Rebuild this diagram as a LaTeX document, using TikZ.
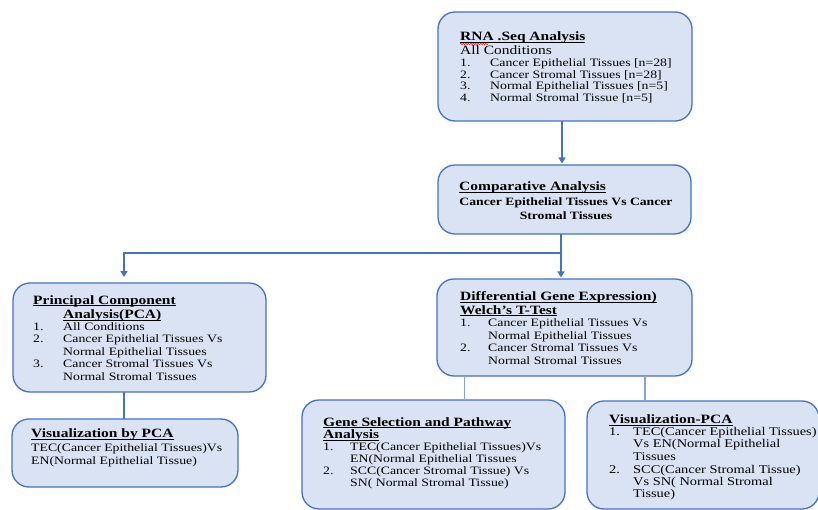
\documentclass[tikz,border=0pt]{standalone}
\usepackage{fontspec}
\setmainfont{Liberation Serif}[FakeStretch=1.22]
\usetikzlibrary{arrows.meta,decorations.pathmorphing}
\definecolor{boxfill}{RGB}{218,227,243}
\definecolor{boxline}{RGB}{68,114,196}
\newcommand{\hdul}[1]{\setbox0\hbox{#1}\rlap{\rule[-2pt]{\wd0}{0.8pt}}\box0}
\newcommand{\itm}[3]{\makebox[#1][l]{#2}#3}
\newcommand{\tx}[5]{\node[#4] (#1) at (#2,#3) {#5};}
\begin{document}
\begin{tikzpicture}[x=1pt,y=-1pt,
  box/.style={draw=boxline, line width=1.3pt, fill=boxfill, rounded corners=17pt, inner sep=0pt, outer sep=0pt},
  body/.style={anchor=base west, inner sep=0pt, font=\fontsize{11.3}{12}\selectfont},
  bodyb/.style={anchor=base, inner sep=0pt, font=\fontsize{11.2}{12}\selectfont\bfseries},
  bodyl/.style={anchor=base west, inner sep=0pt, font=\fontsize{11.8}{12}\selectfont},
  big/.style={anchor=base west, inner sep=0pt, font=\fontsize{12.7}{13}\selectfont},
  head/.style={anchor=base west, inner sep=0pt, font=\fontsize{12.7}{13}\selectfont\bfseries},
  arr/.style={draw=boxline, line width=1.3pt, -{Triangle[length=6pt,width=7pt]}, shorten >=1.5pt},
  conn/.style={draw=boxline, line width=1.3pt},
  lconn/.style={draw=boxline!65!white, line width=1.8pt}
]
\useasboundingbox (0,0) rectangle (818,510);
\fill[white] (0,0) rectangle (818,510);
\clip (0,0) rectangle (818,510);

% boxes
\node[box, minimum width=254pt, minimum height=109pt] (rna) at (565,66.5) {};
\node[box, minimum width=253pt, minimum height=69pt] (comp) at (564.5,199.5) {};
\node[box, minimum width=253pt, minimum height=109pt] (pca) at (139.5,337.5) {};
\node[box, minimum width=255pt, minimum height=97pt] (dge) at (564.5,327.5) {};
\node[box, minimum width=226pt, minimum height=68pt] (vis) at (125,453) {};
\node[box, minimum width=263pt, minimum height=109pt] (gene) at (433.5,454.5) {};
\node[box, minimum width=232pt, minimum height=108pt] (vpca) at (703,455) {};

% connectors
\coordinate (br) at (561,253);
\draw[arr] ([xshift=-3pt]rna.south) -- ([xshift=-3pt]rna.south |- comp.north);
\draw[arr] ([xshift=-3.5pt]comp.south) -- ([xshift=-3.5pt]comp.south |- dge.north);
\draw[arr, shorten >=6pt] (br) -| ([xshift=-15.5pt]pca.north);
\draw[conn] ([xshift=-15.5pt]pca.south) -- ([xshift=-15.5pt]pca.south |- vis.north);
\draw[lconn] ([xshift=-100pt]dge.south) -- ([xshift=-100pt]dge.south |- gene.north);
\draw[lconn] ([xshift=80.5pt]dge.south) -- ([xshift=80.5pt]dge.south |- vpca.north);

% RNA box
\tx{r1}{460}{40.7}{head}{\hdul{RNA .Seq Analysis}}
\draw[red, line width=0.5pt, decorate, decoration={snake, amplitude=0.7pt, segment length=2.5pt}] (460,44) -- (488,44);
\tx{r2}{460}{54.5}{big}{All Conditions}
\tx{r3}{460}{66.7}{body}{\itm{30pt}{1.}{Cancer Epithelial Tissues [n=28]}}
\tx{r4}{460}{78.3}{body}{\itm{30pt}{2.}{Cancer Stromal Tissues [n=28]}}
\tx{r5}{460}{90}{body}{\itm{30pt}{3.}{Normal Epithelial Tissues [n=5]}}
\tx{r6}{460}{101.7}{body}{\itm{30pt}{4.}{Normal Stromal Tissue [n=5]}}

% Comparative
\tx{c1}{459}{190.7}{head}{\hdul{Comparative Analysis}}
\tx{c2}{566}{206}{bodyb}{Cancer Epithelial Tissues Vs Cancer}
\tx{c3}{566}{219.3}{bodyb}{Stromal Tissues}

% PCA
\tx{p1}{33}{304}{head}{\hdul{Principal Component}}
\tx{p2}{63}{318.3}{head}{\hdul{Analysis(PCA)}}
\tx{p3}{33}{330.7}{body}{\itm{30pt}{1.}{All Conditions}}
\tx{p4}{33}{342.3}{body}{\itm{30pt}{2.}{Cancer Epithelial Tissues Vs}}
\tx{p5}{63}{355}{body}{Normal Epithelial Tissues}
\tx{p6}{33}{367.7}{body}{\itm{30pt}{3.}{Cancer Stromal Tissues Vs}}
\tx{p7}{63}{380}{body}{Normal Stromal Tissues}

% DGE
\tx{d1}{460}{300.7}{head}{\hdul{Differential Gene Expression)}}
\tx{d2}{460}{314}{head}{\hdul{Welch’s T-Test}}
\tx{d3}{460}{326.7}{body}{\itm{28pt}{1.}{Cancer Epithelial Tissues Vs}}
\tx{d4}{488}{339}{body}{Normal Epithelial Tissues}
\tx{d5}{460}{351.7}{body}{\itm{28pt}{2.}{Cancer Stromal Tissues Vs}}
\tx{d6}{488}{364.3}{body}{Normal Stromal Tissues}

% Visualization by PCA
\tx{v1}{31}{437.3}{head}{\hdul{Visualization by PCA}}
\tx{v2}{31}{451.7}{body}{TEC(Cancer Epithelial Tissues)Vs}
\tx{v3}{31}{464}{body}{EN(Normal Epithelial Tissue)}

% Gene selection
\tx{g1}{323}{426}{head}{\hdul{Gene Selection and Pathway}}
\tx{g2}{323}{438.3}{head}{\hdul{Analysis}}
\tx{g3}{323}{450}{body}{\itm{27pt}{1.}{TEC(Cancer Epithelial Tissues)Vs}}
\tx{g4}{350}{462.7}{body}{EN(Normal Epithelial Tissues}
\tx{g5}{323}{474.3}{body}{\itm{27pt}{2.}{SCC(Cancer Stromal Tissue) Vs}}
\tx{g6}{350}{486.7}{body}{SN( Normal Stromal Tissue)}

% Visualization-PCA
\tx{w1}{609}{423.3}{head}{\hdul{Visualization-PCA}}
\tx{w2}{609}{435}{bodyl}{\itm{24pt}{1.}{TEC(Cancer Epithelial Tissues)}}
\tx{w3}{633}{447.3}{bodyl}{Vs EN(Normal Epithelial}
\tx{w4}{633}{460}{bodyl}{Tissues}
\tx{w5}{609}{473.3}{bodyl}{\itm{24pt}{2.}{SCC(Cancer Stromal Tissue)}}
\tx{w6}{633}{485}{bodyl}{Vs SN( Normal Stromal}
\tx{w7}{633}{497.3}{bodyl}{Tissue)}
\end{tikzpicture}
\end{document}
